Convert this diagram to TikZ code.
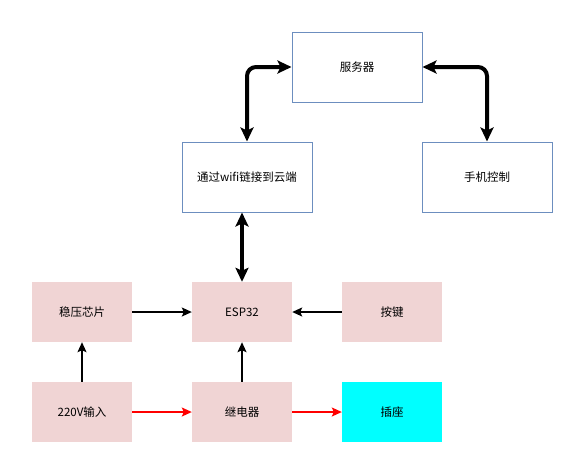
\documentclass[tikz,border=0pt]{standalone}
\usepackage{fontspec}
\setmainfont{Noto Sans CJK SC}
\usetikzlibrary{arrows.meta}
\definecolor{blockpink}{RGB}{240,212,212}
\definecolor{cloudblue}{RGB}{108,142,191}
\definecolor{socketcyan}{RGB}{0,255,255}
\begin{document}
\begin{tikzpicture}[x=1pt,y=-1pt,font=\fontsize{11.5}{13}\selectfont]
    \tikzstyle{cloud}=[draw=cloudblue,line width=1pt,fill=white,minimum width=130pt,minimum height=70pt,inner sep=0pt]
    \tikzstyle{block}=[fill=blockpink,minimum width=100pt,minimum height=60pt,inner sep=0pt]
    \tikzstyle{link}=[line width=4pt,{Stealth[length=14pt,width=13pt,inset=3pt]}-{Stealth[length=14pt,width=13pt,inset=3pt]},rounded corners=9pt]
    \tikzstyle{feed}=[line width=1.6pt,-{Stealth[length=10pt,width=9pt,inset=2pt]}]
    \useasboundingbox (0,0) rectangle (569,459);
    \node[cloud] (server) at (357,67) {服务器};
    \node[cloud] (wifi) at (247,177) {通过wifi链接到云端};
    \node[cloud] (phone) at (487,177) {手机控制};
    \node[block] (reg) at (82,312) {稳压芯片};
    \node[block] (esp) at (242,312) {ESP32};
    \node[block] (key) at (392,312) {按键};
    \node[block] (ac) at (82,412) {220V输入};
    \node[block] (relay) at (242,412) {继电器};
    \node[block,fill=socketcyan] (socket) at (392,412) {插座};
    \draw[link] (wifi.north) |- (server.west);
    \draw[link] (server.east) -| (phone.north);
    \draw[link] (esp.north) -- (esp.north |- wifi.south);
    \draw[feed] (reg) -- (esp);
    \draw[feed] (key) -- (esp);
    \draw[feed] (ac) -- (reg);
    \draw[feed] (relay) -- (esp);
    \draw[feed,red] (ac) -- (relay);
    \draw[feed,red] (relay) -- (socket);
\end{tikzpicture}
\end{document}
